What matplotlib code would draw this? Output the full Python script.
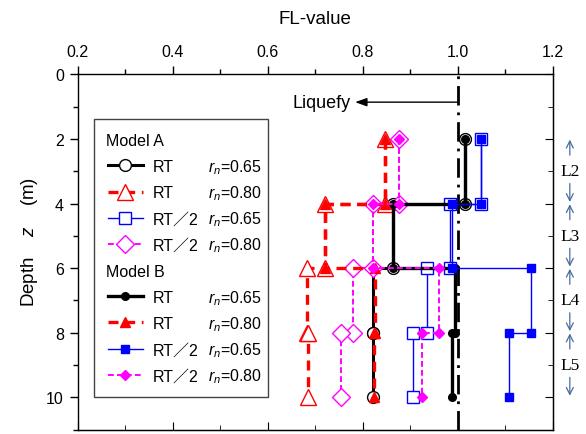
import matplotlib.pyplot as plt
import numpy as np
from matplotlib.lines import Line2D
from matplotlib.ticker import MultipleLocator
import matplotlib.transforms as mtransforms

plt.rcParams['font.family'] = ['Liberation Sans', 'Noto Sans CJK JP', 'DejaVu Sans']
plt.rcParams['mathtext.fontset'] = 'custom'
plt.rcParams['mathtext.rm'] = 'Liberation Sans'
plt.rcParams['mathtext.it'] = 'Liberation Sans:italic'

# soil layers (depth in m)
layer_names = ['L2', 'L3', 'L4', 'L5']
layer_top = [2, 4, 6, 8]
layer_bottom = [4, 6, 8, 10]

# FL of each layer, L2..L5
a_rt_065 = [1.015, 0.863, 0.821, 0.821]
a_rt_080 = [0.847, 0.721, 0.682, 0.685]
a_rt2_065 = [1.049, 0.983, 0.935, 0.905]
a_rt2_080 = [0.877, 0.821, 0.780, 0.754]
b_rt_065 = [1.015, 0.863, 0.994, 0.987]
b_rt_080 = [0.847, 0.721, 0.826, 0.824]
b_rt2_065 = [1.049, 0.987, 1.154, 1.108]
b_rt2_080 = [0.877, 0.821, 0.961, 0.924]

rn_labels = ['$r_n$=0.65', '$r_n$=0.80', '$r_n$=0.65', '$r_n$=0.80']
case_labels = ['RT', 'RT', 'RT／2', 'RT／2']


def steps(vals):
    # each layer value is held from its top to its bottom
    x = np.repeat(vals, 2)
    y = np.ravel(np.column_stack([layer_top, layer_bottom]))
    return x, y


fig = plt.figure(figsize=(5.86, 4.35), dpi=100)
ax = fig.add_axes([0.1326, 0.0099, 0.8106, 0.8168])

ax.axvline(1.0, color='k', lw=2.0, linestyle=(0, (7, 2.5, 1, 2.5)), zorder=1)

red_dash = (0, (3, 2))
mag_dash = (0, (3, 1.6))

model_a = [
    (a_rt_065, dict(color='k', ls='-', lw=2.2, marker='o', ms=8.5)),
    (a_rt_080, dict(color='red', ls=red_dash, lw=2.4, marker='^', ms=12)),
    (a_rt2_065, dict(color='blue', ls='-', lw=1.0, marker='s', ms=9)),
    (a_rt2_080, dict(color='magenta', ls=mag_dash, lw=1.4, marker='D', ms=9)),
]
model_b = [
    (b_rt_065, dict(color='k', ls='-', lw=2.4, marker='o', ms=5.5)),
    (b_rt_080, dict(color='red', ls=red_dash, lw=2.4, marker='^', ms=7)),
    (b_rt2_065, dict(color='blue', ls='-', lw=1.0, marker='s', ms=5.5)),
    (b_rt2_080, dict(color='magenta', ls=mag_dash, lw=1.4, marker='D', ms=5.5)),
]

a_handles = []
for vals, st in model_a:
    x, y = steps(vals)
    h, = ax.plot(x, y, color=st['color'], linestyle=st['ls'], lw=st['lw'],
                 marker=st['marker'], ms=st['ms'], mfc='white',
                 mec=st['color'], mew=1.0, zorder=3)
    a_handles.append(h)

b_handles = []
for vals, st in model_b:
    x, y = steps(vals)
    h, = ax.plot(x, y, color=st['color'], linestyle=st['ls'], lw=st['lw'],
                 marker=st['marker'], ms=st['ms'], mfc=st['color'],
                 mec=st['color'], zorder=4)
    b_handles.append(h)

# axes and ticks
ax.set_xlim(0.2, 1.2)
ax.set_ylim(11, 0)
ax.xaxis.tick_top()
ax.xaxis.set_label_position('top')
ax.set_xticks(np.arange(0.2, 1.21, 0.2))
ax.set_xticklabels(['%.1f' % v for v in np.arange(0.2, 1.21, 0.2)])
ax.xaxis.set_minor_locator(MultipleLocator(0.1))
ax.set_yticks(np.arange(0, 11, 2))
ax.yaxis.set_minor_locator(MultipleLocator(1))
ax.tick_params(which='major', direction='out', length=6, width=1,
               labelsize=11.5, pad=5)
ax.tick_params(which='minor', direction='out', length=3.5, width=1)
ax.tick_params(axis='y', pad=4)
for sp in ax.spines.values():
    sp.set_linewidth(1.0)

sx = ax.secondary_xaxis('bottom')
sx.set_xticks(np.arange(0.2, 1.21, 0.2))
sx.xaxis.set_minor_locator(MultipleLocator(0.1))
sx.tick_params(which='major', direction='in', length=6, labelbottom=False)
sx.tick_params(which='minor', direction='in', length=3.5)

sy = ax.secondary_yaxis('right')
sy.set_yticks(np.arange(0, 11, 2))
sy.yaxis.set_minor_locator(MultipleLocator(1))
sy.tick_params(which='major', direction='in', length=6, labelright=False)
sy.tick_params(which='minor', direction='in', length=3.5)

ax.set_xlabel('FL-value', fontsize=13.5, labelpad=15)
ax.set_ylabel('Depth    $z$    (m)', fontsize=13.5, labelpad=2)
ax.yaxis.set_label_coords(-0.08, 0.53)

# liquefaction boundary note
ax.annotate('', xy=(0.784, 0.86), xytext=(1.0, 0.86),
            arrowprops=dict(arrowstyle='-|>,head_length=0.7,head_width=0.25',
                            color='k', lw=1.0, shrinkA=0, shrinkB=0))
ax.text(0.774, 0.88, 'Liquefy', ha='right', va='center', fontsize=13)

# layer marks on the right
trans = mtransforms.blended_transform_factory(ax.transAxes, ax.transData)
arrow_col = '#4a6c9b'
for name, top, bot in zip(layer_names, layer_top, layer_bottom):
    c = (top + bot) / 2
    ax.text(1.036, c, name, transform=trans, ha='center', va='center',
            fontsize=12.5, family='Liberation Serif', clip_on=False)
    for y0, y1 in [(c - 0.5, top + 0.02), (c + 0.38, bot - 0.05)]:
        ax.annotate('', xy=(1.036, y1), xytext=(1.036, y0), xycoords=trans,
                    textcoords=trans,
                    arrowprops=dict(arrowstyle='->,head_length=0.5,head_width=0.25',
                                    color=arrow_col, lw=0.9,
                                    shrinkA=0, shrinkB=0))

# legend: case names in the legend itself, model headers and r_n added beside
blank = Line2D([], [], linestyle='none')
leg_h = [blank] + a_handles + [blank] + b_handles
leg_l = [' '] + case_labels + [' '] + case_labels
leg = ax.legend(leg_h, leg_l, loc='upper left', mode='expand',
                bbox_to_anchor=(0.035, 0.0, 0.365, 0.874),
                borderaxespad=0, fontsize=11.5, frameon=True, fancybox=False,
                edgecolor='#444444', framealpha=1, handlelength=2.2,
                handletextpad=0.6, labelspacing=0.7,
                borderpad=0.85, numpoints=1)
leg.get_frame().set_linewidth(1.0)

fig.canvas.draw()
W, H = fig.bbox.width, fig.bbox.height
frame_bb = leg.get_frame().get_window_extent()
texts = leg.get_texts()
side = [('Model A', 12)] + [(s, 114) for s in rn_labels]
side = side + [('Model B', 12)] + [(s, 114) for s in rn_labels]
for t, (s, dx) in zip(texts, side):
    bx, by = t.get_transform().transform(t.get_position())
    fig.text((frame_bb.x0 + dx) / W, by / H, s, fontsize=11.5,
             va='baseline', ha='left')

fig.savefig('out.png', dpi=100)
